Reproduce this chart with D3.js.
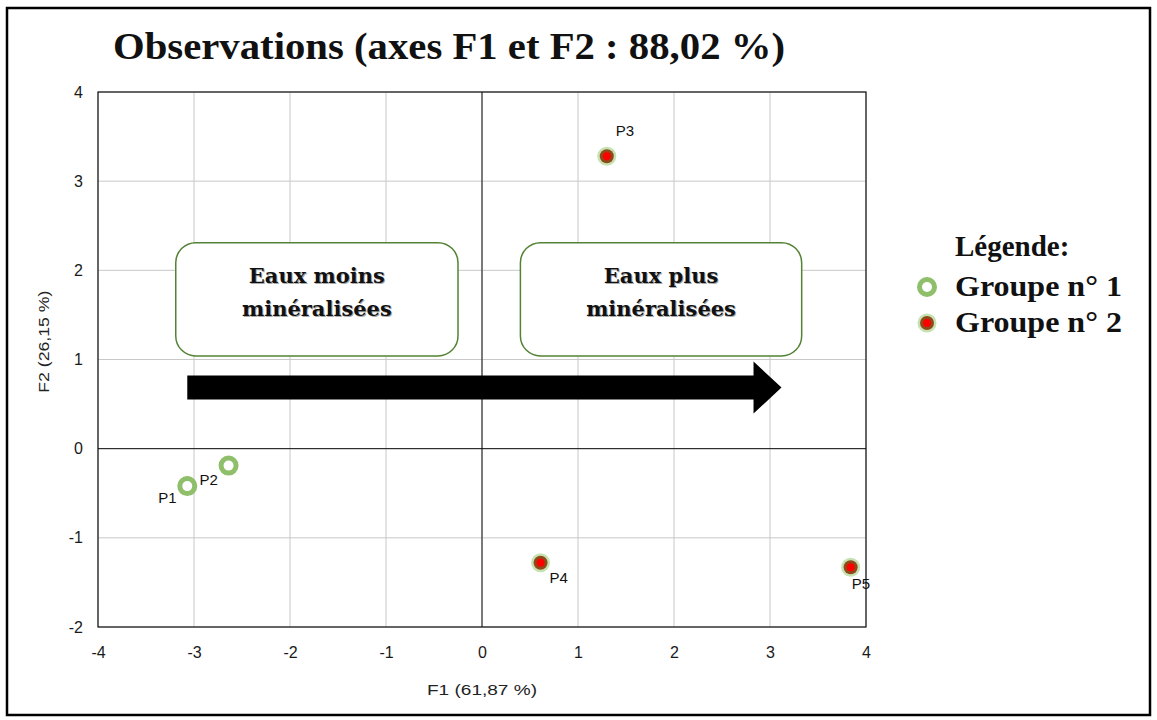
<!DOCTYPE html>
<html>
<head>
<meta charset="utf-8">
<script src="https://cdn.jsdelivr.net/npm/d3@7"></script>
<style>
  body { margin: 0; background: #fff; }
</style>
</head>
<body>
<div id="viz-container"></div>
<script>
var width = 1157, height = 720;
var margin = {top: 92, left: 98, right: 291, bottom: 93};

// observations (F1, F2)
var names  = ["P1", "P2", "P3", "P4", "P5"];
var f1     = [-3.07, -2.64, 1.30, 0.61, 3.84];
var f2     = [-0.42, -0.19, 3.28, -1.28, -1.33];
var groups = [1, 1, 2, 2, 2];

var xTicks = [-4, -3, -2, -1, 0, 1, 2, 3, 4];
var yTicks = [-2, -1, 0, 1, 2, 3, 4];

var legendLabels = ["Groupe n\u00b0 1", "Groupe n\u00b0 2"];

var svg = d3.select("#viz-container")
            .append("svg")
            .attr("width", width)
            .attr("height", height);

// outer frame
svg.append("rect")
   .attr("x", 7).attr("y", 8)
   .attr("width", 1143).attr("height", 707)
   .attr("fill", "none")
   .attr("stroke", "#000")
   .attr("stroke-width", 2.5);

var x = d3.scaleLinear().domain([-4, 4]).range([margin.left, width - margin.right]);
var y = d3.scaleLinear().domain([-2, 4]).range([height - margin.bottom, margin.top]);

// grid
svg.append("g")
   .selectAll("line")
   .data(xTicks)
   .enter().append("line")
   .attr("x1", function(d) { return x(d); })
   .attr("x2", function(d) { return x(d); })
   .attr("y1", y(-2)).attr("y2", y(4))
   .attr("stroke", "#c8c8c8");

svg.append("g")
   .selectAll("line")
   .data(yTicks)
   .enter().append("line")
   .attr("y1", function(d) { return y(d); })
   .attr("y2", function(d) { return y(d); })
   .attr("x1", x(-4)).attr("x2", x(4))
   .attr("stroke", "#c8c8c8");

// zero lines
svg.append("line")
   .attr("x1", x(0)).attr("x2", x(0)).attr("y1", y(-2)).attr("y2", y(4))
   .attr("stroke", "#111");
svg.append("line")
   .attr("y1", y(0)).attr("y2", y(0)).attr("x1", x(-4)).attr("x2", x(4))
   .attr("stroke", "#111");

// plot frame
svg.append("rect")
   .attr("x", x(-4)).attr("y", y(4))
   .attr("width", x(4) - x(-4)).attr("height", y(-2) - y(4))
   .attr("fill", "none")
   .attr("stroke", "#111")
   .attr("stroke-width", 1.2);

// axes (labels only)
var plain = function(d) { return "" + d; };
var xAxis = svg.append("g")
   .attr("transform", "translate(0," + (y(-2) + 12) + ")")
   .call(d3.axisBottom(x).tickValues(xTicks).tickFormat(plain).tickSize(0).tickPadding(8));
xAxis.select(".domain").remove();

var yAxis = svg.append("g")
   .attr("transform", "translate(" + (x(-4) - 15) + ",0)")
   .call(d3.axisLeft(y).tickValues(yTicks).tickFormat(plain).tickSize(0).tickPadding(0));
yAxis.select(".domain").remove();

svg.selectAll(".tick text")
   .style("font-family", "Liberation Sans, Arial, sans-serif")
   .style("font-size", "16px")
   .attr("fill", "#1a1a1a");

// axis titles
svg.append("text")
   .attr("x", x(0)).attr("y", 695)
   .attr("text-anchor", "middle")
   .attr("textLength", 110)
   .attr("lengthAdjust", "spacingAndGlyphs")
   .style("font-family", "Liberation Sans, Arial, sans-serif")
   .style("font-size", "14px")
   .attr("fill", "#222")
   .text("F1 (61,87 %)");

svg.append("text")
   .attr("transform", "translate(49," + y(1.2) + ") rotate(-90)")
   .attr("text-anchor", "middle")
   .attr("textLength", 102)
   .attr("lengthAdjust", "spacingAndGlyphs")
   .style("font-family", "Liberation Sans, Arial, sans-serif")
   .style("font-size", "14px")
   .attr("fill", "#222")
   .text("F2 (26,15 %)");

// title
svg.append("text")
   .attr("x", 113).attr("y", 59)
   .attr("textLength", 672)
   .attr("lengthAdjust", "spacingAndGlyphs")
   .style("font-family", "Liberation Serif, Times New Roman, serif")
   .style("font-weight", "bold")
   .style("font-size", "37px")
   .attr("fill", "#111")
   .text("Observations (axes F1 et F2 : 88,02 %)");

// annotation boxes
var boxes = [
  {x0: -3.19, x1: -0.25, lines: ["Eaux moins", "min\u00e9ralis\u00e9es"]},
  {x0: 0.40, x1: 3.33, lines: ["Eaux plus", "min\u00e9ralis\u00e9es"]}
];
var box = svg.append("g").selectAll("g")
   .data(boxes)
   .enter().append("g");
box.append("rect")
   .attr("x", function(d) { return x(d.x0); })
   .attr("y", y(2.31))
   .attr("width", function(d) { return x(d.x1) - x(d.x0); })
   .attr("height", y(1.04) - y(2.31))
   .attr("rx", 20).attr("ry", 20)
   .attr("fill", "#fff")
   .attr("stroke", "#548235")
   .attr("stroke-width", 1.5);

// text with a light shadow, drawn twice
[{dx: 1, col: "#aaa"}, {dx: 0, col: "#111"}].forEach(function(s) {
  box.append("text")
     .attr("text-anchor", "middle")
     .style("font-family", "DejaVu Serif, serif")
     .style("font-weight", "bold")
     .style("font-size", "21px")
     .attr("fill", s.col)
     .selectAll("tspan")
     .data(function(d) { return d.lines.map(function(l) { return {l: l, xc: (x(d.x0) + x(d.x1)) / 2}; }); })
     .enter().append("tspan")
     .attr("x", function(d) { return d.xc + s.dx; })
     .attr("y", function(d, i) { return 283 + s.dx + i * 33; })
     .text(function(d) { return d.l; });
});

// arrow
var ay = y(0.685), ax0 = x(-3.07), ax1 = x(3.12);
svg.append("path")
   .attr("d", "M" + ax0 + "," + (ay - 12) +
              "L" + (ax1 - 28) + "," + (ay - 12) +
              "L" + (ax1 - 28) + "," + (ay - 26) +
              "L" + ax1 + "," + ay +
              "L" + (ax1 - 28) + "," + (ay + 26) +
              "L" + (ax1 - 28) + "," + (ay + 12) +
              "L" + ax0 + "," + (ay + 12) + "Z")
   .attr("fill", "#000");

// markers
function drawMarker(g, grp) {
  if (grp === 1) {
    g.append("circle").attr("r", 7.5).attr("fill", "#fff")
     .attr("stroke", "#8fbf6a").attr("stroke-width", 5);
  } else {
    g.append("circle").attr("r", 9.5).attr("fill", "#c5e2b0");
    g.append("circle").attr("r", 7).attr("fill", "#8f4a1c");
    g.append("circle").attr("r", 4).attr("fill", "#ff0000");
  }
}

var data = names.map(function(n, i) { return {name: n, f1: f1[i], f2: f2[i], group: groups[i]}; });
var labelOffsets = {P1: [-29, 17], P2: [-29, 19], P3: [9, -20], P4: [9, 20], P5: [1, 22]};

var pts = svg.append("g").selectAll("g")
   .data(data)
   .enter().append("g")
   .attr("transform", function(d) { return "translate(" + x(d.f1) + "," + y(d.f2) + ")"; });
pts.each(function(d) { drawMarker(d3.select(this), d.group); });
pts.append("text")
   .attr("x", function(d) { return labelOffsets[d.name][0]; })
   .attr("y", function(d) { return labelOffsets[d.name][1]; })
   .style("font-family", "Liberation Sans, Arial, sans-serif")
   .style("font-size", "15px")
   .attr("fill", "#111")
   .text(function(d) { return d.name; });

// legend
var legend = svg.append("g").attr("transform", "translate(927,0)");
legend.append("text")
   .attr("x", 28).attr("y", 256)
   .style("font-family", "Liberation Serif, Times New Roman, serif")
   .style("font-weight", "bold")
   .style("font-size", "29px")
   .attr("fill", "#111")
   .text("L\u00e9gende:");
var legItem = legend.selectAll("g.item")
   .data(legendLabels)
   .enter().append("g")
   .attr("transform", function(d, i) { return "translate(0," + (287 + i * 36) + ")"; });
legItem.each(function(d, i) { drawMarker(d3.select(this), i + 1); });
legItem.append("text")
   .attr("x", 28).attr("y", 9)
   .attr("textLength", 167)
   .attr("lengthAdjust", "spacingAndGlyphs")
   .style("font-family", "Liberation Serif, Times New Roman, serif")
   .style("font-weight", "bold")
   .style("font-size", "29px")
   .attr("fill", "#111")
   .text(function(d) { return d; });
</script>
</body>
</html>
